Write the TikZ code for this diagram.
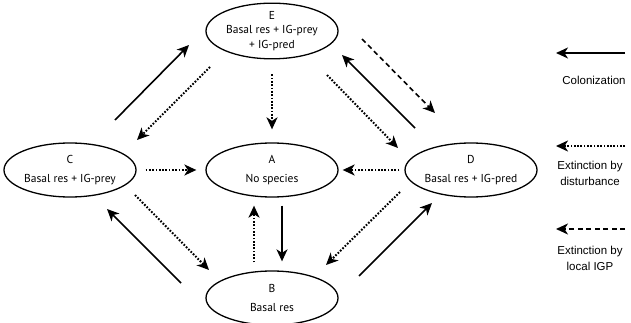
\documentclass[tikz,border=0pt]{standalone}
\usepackage{fontspec}
\setmainfont{PT Sans}
\newfontfamily\legendfont{Liberation Sans}
\usetikzlibrary{shapes.geometric, arrows.meta}

\begin{document}
\begin{tikzpicture}
      [
        x=1pt, y=-1pt,
        state/.style={draw, ellipse, line width=1.3pt, minimum width=132pt,
          minimum height=54pt, inner sep=0pt, align=center,
          font=\fontsize{11.5}{14.5}\selectfont},
        legend/.style={align=center, font=\legendfont\fontsize{11.5}{16}\selectfont},
        col/.style={line width=1.6pt, -{Stealth[length=12pt, width=11pt, inset=3.5pt]}},
        ext/.style={col, line width=2pt, dash pattern=on 1.7pt off 1.6pt},
        igp/.style={col, dash pattern=on 5pt off 3.5pt}
      ]
      \useasboundingbox (0,0) rectangle (631,323);
      % states
      \node [state] (E) at (272,31) {E\\Basal res + IG-prey\\+ IG-pred};
      \node [state] (C) at (70,170) {C\\[4.5pt]Basal res + IG-prey};
      \node [state] (A) at (272,170) {A\\[4.5pt]No species};
      \node [state] (D) at (471,170) {D\\[4.5pt]Basal res + IG-pred};
      \node [state] (B) at (272,298) {B\\[4.5pt]Basal res};
      % arrow ends between the states
      \coordinate (ce1) at (115,120);  \coordinate (ce2) at (189,45);
      \coordinate (ec1) at (210,67);   \coordinate (ec2) at (137,140);
      \coordinate (ed1) at (327,75);   \coordinate (ed2) at (398,148);
      \coordinate (de1) at (415,128);  \coordinate (de2) at (342,55);
      \coordinate (ek1) at (362,39);   \coordinate (ek2) at (435,113);
      \coordinate (cb1) at (135,195);  \coordinate (cb2) at (209,270);
      \coordinate (bc1) at (181,283);  \coordinate (bc2) at (107,209);
      \coordinate (db1) at (400,192);  \coordinate (db2) at (326,265);
      \coordinate (bd1) at (359,276);  \coordinate (bd2) at (432,203);
      % colonization
      \foreach \s/\t in {ce1/ce2, de1/de2, bc1/bc2, bd1/bd2} {
          \draw [col] (\s) -- (\t);
      }
      \draw [col, shorten <=8pt, shorten >=9pt]
      ([xshift=10pt]A.south) -- ([xshift=10pt]B.north);
      % extinction by disturbance
      \foreach \s/\t in {ec1/ec2, ed1/ed2, cb1/cb2, db1/db2} {
          \draw [ext] (\s) -- (\t);
      }
      \draw [ext, shorten <=9pt, shorten >=9pt] (C) -- (A);
      \draw [ext, shorten <=5pt, shorten >=4pt] (D) -- (A);
      \draw [ext, shorten <=15pt, shorten >=13pt] (E) -- (A);
      \draw [ext, shorten <=8pt, shorten >=8pt]
      ([xshift=-18pt]B.north) -- ([xshift=-18pt]A.south);
      % extinction by local IGP
      \draw [igp] (ek1) -- (ek2);
      % legend
      \node [legend] (colon) at (594,80) {Colonization};
      \node [legend] (dist) at (590,173) {Extinction by\\disturbance};
      \node [legend] (local) at (590,258) {Extinction by\\local IGP};
      \coordinate (k1) at (625,53);   \coordinate (k2) at (556,53);
      \coordinate (k3) at (625,146);  \coordinate (k4) at (556,146);
      \coordinate (k5) at (625,229);  \coordinate (k6) at (556,229);
      \draw [col] (k1) -- (k2);
      \draw [ext] (k3) -- (k4);
      \draw [igp] (k5) -- (k6);
    \end{tikzpicture}
\end{document}
